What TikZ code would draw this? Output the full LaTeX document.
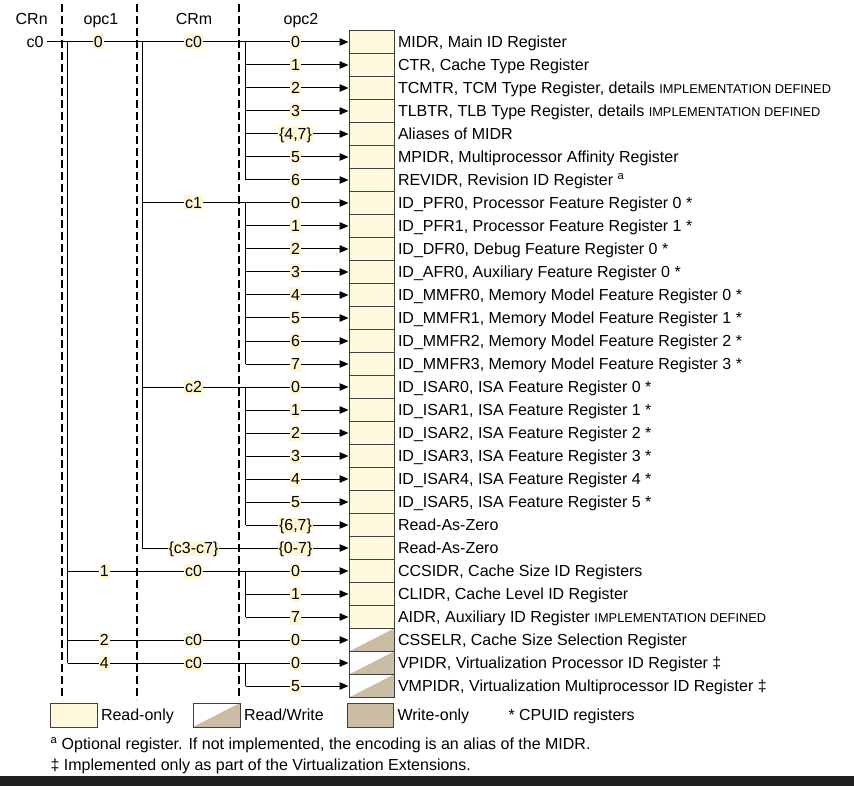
\documentclass[tikz,border=0pt]{standalone}
\usepackage{fontspec}
\setmainfont{Liberation Sans}
\usetikzlibrary{arrows.meta,positioning}

\definecolor{rofill}{HTML}{FEF9DC}
\definecolor{wofill}{HTML}{CBBCA5}
\definecolor{hlfill}{HTML}{FFF6D6}
\definecolor{barfill}{HTML}{202020}

\newcommand{\impdef}{{\fontsize{12.8}{14}\selectfont IMPLEMENTATION DEFINED}}

\begin{document}
\begin{tikzpicture}[x=1pt,y=-1pt,line width=1pt,font=\fontsize{16}{19}\selectfont,
  rbox/.style={draw=black!75,minimum width=45pt,minimum height=23pt,inner sep=0pt},
  robox/.style={rbox,fill=rofill},
  rwbox/.style={rbox,fill=white,path picture={\fill[wofill] (path picture bounding box.south west) -- (path picture bounding box.south east) -- (path picture bounding box.north east) -- cycle;}},
  wobox/.style={rbox,fill=wofill},
  rowbox/.code={\ifnum#1>25\relax\pgfkeysalso{rwbox}\else\pgfkeysalso{robox}\fi},
  reg/.style={inner sep=3pt,text height=11.5pt,text depth=0.5pt},
  lab/.style={fill=hlfill,inner sep=1pt,text height=12pt,text depth=1pt},
  head/.style={anchor=base,inner sep=0pt},
  arr/.style={-{Triangle[length=9pt,width=7.5pt]}},
  colsep/.style={line width=2pt,dash pattern=on 8pt off 4pt}]

\useasboundingbox (0,0) rectangle (854,786);

\node[head] (hcrn) at (31.7,24.5) {CRn};
\node[head] (hop1) at (101,24.5) {opc1};
\node[head] (hcrm) at (194,24.5) {CRm};
\node[head] (hop2) at (301,24.5) {opc2};

\draw[colsep] (61.7,4) -- (61.7,700);
\draw[colsep] (136.7,4) -- (136.7,700);
\draw[colsep] (239.3,4) -- (239.3,700);

\foreach \i/\op/\txt in {
  0/0/{MIDR, Main ID Register},
  1/1/{CTR, Cache Type Register},
  2/2/{TCMTR, TCM Type Register, details \impdef},
  3/3/{TLBTR, TLB Type Register, details \impdef},
  4/{\{4,7\}}/{Aliases of MIDR},
  5/5/{MPIDR, Multiprocessor Affinity Register},
  6/6/{REVIDR, Revision ID Register \textsuperscript{a}},
  7/0/{ID\_PFR0, Processor Feature Register 0 *},
  8/1/{ID\_PFR1, Processor Feature Register 1 *},
  9/2/{ID\_DFR0, Debug Feature Register 0 *},
  10/3/{ID\_AFR0, Auxiliary Feature Register 0 *},
  11/4/{ID\_MMFR0, Memory Model Feature Register 0 *},
  12/5/{ID\_MMFR1, Memory Model Feature Register 1 *},
  13/6/{ID\_MMFR2, Memory Model Feature Register 2 *},
  14/7/{ID\_MMFR3, Memory Model Feature Register 3 *},
  15/0/{ID\_ISAR0, ISA Feature Register 0 *},
  16/1/{ID\_ISAR1, ISA Feature Register 1 *},
  17/2/{ID\_ISAR2, ISA Feature Register 2 *},
  18/3/{ID\_ISAR3, ISA Feature Register 3 *},
  19/4/{ID\_ISAR4, ISA Feature Register 4 *},
  20/5/{ID\_ISAR5, ISA Feature Register 5 *},
  21/{\{6,7\}}/{Read-As-Zero},
  22/{\{0-7\}}/{Read-As-Zero},
  23/0/{CCSIDR, Cache Size ID Registers},
  24/1/{CLIDR, Cache Level ID Register},
  25/7/{AIDR, Auxiliary ID Register \impdef},
  26/0/{CSSELR, Cache Size Selection Register},
  27/0/{VPIDR, Virtualization Processor ID Register ‡},
  28/5/{VMPIDR, Virtualization Multiprocessor ID Register ‡}}{
  \pgfmathsetmacro\y{42+23*\i}
  \coordinate (b\i) at (245.7,\y);
  \node[rowbox=\i] (r\i) at (371.5,\y) {};
  \node[reg,right=0pt of r\i] (t\i) {\txt};
  \draw[arr] (b\i) -- (r\i);
  \node[lab] (o\i) at (295.5,\y) {\op};
}

\draw (b0) -- (b6);
\draw (b7) -- (b14);
\draw (b15) -- (b21);
\draw (b23) -- (b25);
\draw (b27) -- (b28);

\foreach \i/\crm in {7/c1,15/c2,22/{\{c3-c7\}}}{
  \coordinate (m\i) at (142.3,42+23*\i);
  \draw (m\i) -- (b\i);
  \node[lab] (n\i) at (193.5,42+23*\i) {\crm};
}
\coordinate (m0) at (142.3,42);
\draw (m0) -- (m22);

\foreach \i/\opa in {23/1,26/2,27/4}{
  \coordinate (s\i) at (67.7,42+23*\i);
  \draw (s\i) -- (b\i);
  \node[lab] (p\i) at (104.3,42+23*\i) {\opa};
  \node[lab] (n\i) at (193.5,42+23*\i) {c0};
}
\coordinate (s0) at (67.7,42);
\draw (s0) -- (s27);

\node[reg] (crn) at (35,42) {c0};
\draw (crn) -- (b0);
\node[lab] (p0) at (98.3,42) {0};
\node[lab] (n0) at (193.5,42) {c0};

\node[robox,minimum width=47pt,minimum height=24pt] (kro) at (73.5,715) {};
\node[reg,right=0pt of kro] (tro) {Read-only};
\node[rwbox,minimum width=47pt,minimum height=24pt] (krw) at (216.5,715) {};
\node[reg,right=0pt of krw] (trw) {Read/Write};
\node[wobox,minimum width=46pt,minimum height=24pt] (kwo) at (370.5,715) {};
\node[reg,right=0pt of kwo] (two) {Write-only};
\node[reg,anchor=west,inner sep=0pt] (tcpu) at (508,715) {* CPUID registers};

\node[reg,anchor=west,inner sep=0pt] (fna) at (50,744) {\textsuperscript{a} Optional register. If not implemented, the encoding is an alias of the MIDR.};
\node[reg,anchor=west,inner sep=0pt] (fnb) at (50,765) {‡ Implemented only as part of the Virtualization Extensions.};

\fill[barfill] (0,776) rectangle (854,786);
\end{tikzpicture}
\end{document}
